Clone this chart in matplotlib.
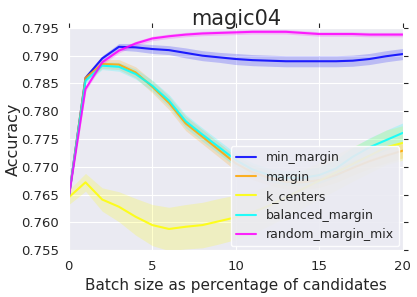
import numpy as np
import seaborn as sns
from matplotlib import pyplot as plt

sns.set_style('darkgrid', {'xtick.major.size': 4, 'ytick.major.size': 4,
                           'xtick.color': '.15', 'ytick.color': '.15'})

batch_pct = list(range(21))

min_margin = [0.7645, 0.7860, 0.7895, 0.7916, 0.7915, 0.7912, 0.7910, 0.7905, 0.7900, 0.7897, 0.7894,
              0.7892, 0.7891, 0.7890, 0.7890, 0.7890, 0.7890, 0.7891, 0.7894, 0.7899, 0.7903]
min_margin_std = [0.0003, 0.0004, 0.0005, 0.0006, 0.0007, 0.0008, 0.0008, 0.0009, 0.0009, 0.0009, 0.0010,
                  0.0010, 0.0010, 0.0010, 0.0010, 0.0010, 0.0010, 0.0010, 0.0010, 0.0010, 0.0010]

margin = [0.7645, 0.7860, 0.7885, 0.7884, 0.7870, 0.7844, 0.7815, 0.7778, 0.7754, 0.7730, 0.7706,
          0.7690, 0.7680, 0.7673, 0.7672, 0.7676, 0.7685, 0.7698, 0.7710, 0.7720, 0.7729]
margin_std = [0.0003, 0.0006, 0.0008, 0.0009, 0.0010, 0.0011, 0.0012, 0.0013, 0.0013, 0.0013, 0.0013,
              0.0013, 0.0013, 0.0013, 0.0013, 0.0013, 0.0013, 0.0013, 0.0013, 0.0013, 0.0013]

k_centers = [0.7645, 0.7672, 0.7641, 0.7628, 0.7610, 0.7595, 0.7588, 0.7592, 0.7595, 0.7602, 0.7609,
             0.7618, 0.7630, 0.7645, 0.7660, 0.7675, 0.7690, 0.7705, 0.7720, 0.7735, 0.7743]
k_centers_std = [0.0013, 0.0016, 0.0021, 0.0027, 0.0033, 0.0037, 0.0039, 0.0040, 0.0041, 0.0041, 0.0040,
                 0.0038, 0.0036, 0.0035, 0.0034, 0.0033, 0.0032, 0.0031, 0.0031, 0.0031, 0.0031]

balanced_margin = [0.7645, 0.7855, 0.7882, 0.7880, 0.7867, 0.7846, 0.7819, 0.7782, 0.7758, 0.7735, 0.7712,
                   0.7695, 0.7685, 0.7680, 0.7680, 0.7685, 0.7697, 0.7718, 0.7735, 0.7748, 0.7761]
balanced_margin_std = [0.0003, 0.0005, 0.0007, 0.0008, 0.0009, 0.0010, 0.0011, 0.0012, 0.0012, 0.0012, 0.0012,
                       0.0012, 0.0012, 0.0013, 0.0014, 0.0015, 0.0016, 0.0017, 0.0017, 0.0018, 0.0018]

random_margin_mix = [0.7645, 0.7840, 0.7888, 0.7909, 0.7922, 0.7931, 0.7935, 0.7938, 0.7940, 0.7941, 0.7942,
                     0.7943, 0.7943, 0.7943, 0.7941, 0.7939, 0.7939, 0.7939, 0.7938, 0.7938, 0.7938]
random_margin_mix_std = [0.0003, 0.0004, 0.0004, 0.0004, 0.0004, 0.0004, 0.0004, 0.0004, 0.0004, 0.0004, 0.0004,
                         0.0004, 0.0004, 0.0004, 0.0004, 0.0004, 0.0004, 0.0004, 0.0004, 0.0004, 0.0004]

series = [('min_margin', min_margin, min_margin_std, 'blue'),
          ('margin', margin, margin_std, 'orange'),
          ('k_centers', k_centers, k_centers_std, 'yellow'),
          ('balanced_margin', balanced_margin, balanced_margin_std, 'cyan'),
          ('random_margin_mix', random_margin_mix, random_margin_mix_std, 'magenta')]

fig = plt.figure(figsize=(4.17, 2.97), dpi=100)
ax = fig.add_axes([0.165, 0.158, 0.801, 0.748])

x = np.array(batch_pct)
for name, mean, std, color in series:
    mean = np.array(mean)
    std = np.array(std)
    ax.plot(x, mean, color=color, lw=1.5, alpha=0.85, label=name)
    ax.fill_between(x, mean - std, mean + std, color=color, alpha=0.2, lw=0)

ax.set_xlim(0, 20)
ax.set_ylim(0.755, 0.795)
ax.set_xticks([0, 5, 10, 15, 20])
ax.set_yticks([0.755, 0.760, 0.765, 0.770, 0.775, 0.780, 0.785, 0.790, 0.795])
ax.tick_params(axis='both', which='major', labelsize=9.5, top=True, right=True,
               labeltop=False, labelright=False, direction='out')
ax.set_xlabel('Batch size as percentage of candidates', fontsize=11)
ax.set_ylabel('Accuracy', fontsize=11.5, labelpad=0)
ax.set_title('magic04', fontsize=15, pad=2)

leg = ax.legend(loc='lower right', fontsize=9, frameon=True, borderaxespad=0.3,
                handlelength=1.6, framealpha=0.9)
leg.get_frame().set_edgecolor('white')
leg.get_frame().set_facecolor('#EAEAF2')

fig.savefig('out.png', dpi=100)
